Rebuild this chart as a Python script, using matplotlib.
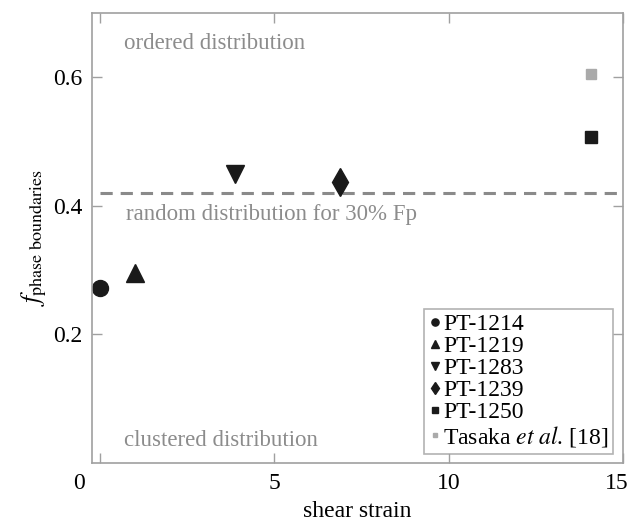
import matplotlib
matplotlib.use('Agg')
import matplotlib.pyplot as plt
import matplotlib.transforms as mtransforms

plt.rcParams['font.family'] = ['Liberation Serif', 'DejaVu Serif']
plt.rcParams['mathtext.fontset'] = 'stix'

# donnees
labels = ['PT-1214', 'PT-1219', 'PT-1283', 'PT-1239', 'PT-1250', r'Tasaka $\it{et\ al}$. [18]']
shear_strain = [0.0, 1.0, 3.88, 6.89, 14.1, 14.1]
f_phase = [0.272, 0.296, 0.449, 0.437, 0.507, 0.606]
markers = ['o', '^', 'v', 'd', 's', 's']
sizes = [11.5, 12.5, 12.5, 14, 9, 7]
colors = ['#1a1a1a', '#1a1a1a', '#1a1a1a', '#1a1a1a', '#1a1a1a', '#aaaaaa']
random_level = 0.42

xticks = [0, 5, 10, 15]
yticks = [0.2, 0.4, 0.6]

fig = plt.figure(figsize=(6.33, 5.24), dpi=100)
ax = fig.add_axes([0.1453, 0.1164, 0.8387, 0.8586])

ax.axhline(random_level, xmin=0.015, xmax=1.0, color='#8a8a8a', lw=2.2, ls=(0, (4.0, 2.6)))

for x, y, m, s, c, lab in zip(shear_strain, f_phase, markers, sizes, colors, labels):
    ax.plot([x], [y], ls='none', marker=m, ms=s, color=c, mec=c, label=lab)

grey = '#8c8c8c'
ax.text(0.69, 0.652, 'ordered distribution', color=grey, fontsize=16.5, va='center')
ax.text(0.76, 0.387, 'random distribution for 30% Fp', color=grey, fontsize=16.5, va='center')
ax.text(0.69, 0.035, 'clustered distribution', color=grey, fontsize=16.5, va='center')

ax.set_xlim(-0.23, 15)
ax.set_ylim(0, 0.7)
ax.set_xticks(xticks)
ax.set_yticks(yticks)
ax.set_xticklabels([str(t) for t in xticks])
ax.set_yticklabels(['0.2', '0.4', '0.6'])
ax.tick_params(direction='in', length=7.5, width=1, color='#a0a0a0', labelsize=17,
               top=True, right=True, pad=7)
for sp in ax.spines.values():
    sp.set_color('#a0a0a0')
    sp.set_linewidth(1.2)

# le "0" est decale vers la gauche sur l'original, et "15" touche le bord
xlabs = ax.get_xticklabels()
xlabs[0].set_transform(xlabs[0].get_transform() + mtransforms.ScaledTranslation(-0.21, 0, fig.dpi_scale_trans))
xlabs[-1].set_transform(xlabs[-1].get_transform() + mtransforms.ScaledTranslation(-0.06, 0, fig.dpi_scale_trans))

ax.set_xlabel('shear strain', fontsize=17, labelpad=5)
ax.set_ylabel(r'$f_{\mathrm{phase\ boundaries}}$', fontsize=18.5, labelpad=3)

leg = ax.legend(loc='lower right', fontsize=17, markerscale=0.45, handlelength=0.5,
                handletextpad=0.1, borderpad=0.2, labelspacing=0.02, frameon=True,
                fancybox=False, borderaxespad=0.4)
leg.get_frame().set_edgecolor('#a0a0a0')
leg.get_frame().set_linewidth(1.2)

fig.savefig('out.png', dpi=100)
